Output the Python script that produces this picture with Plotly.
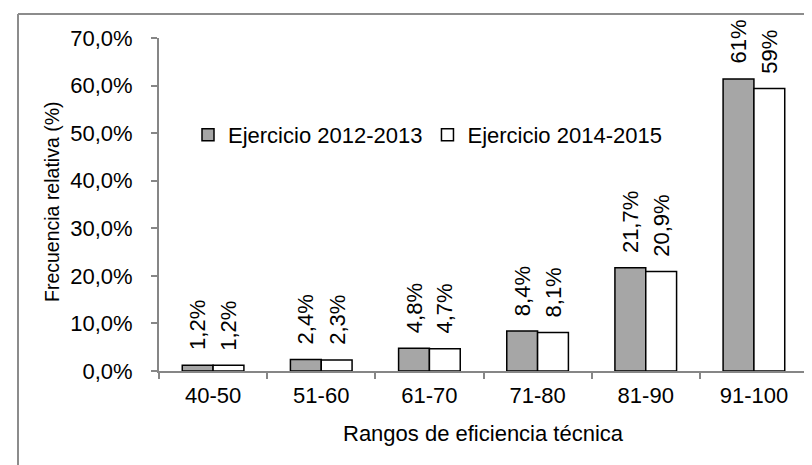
import plotly.graph_objects as go

categories = ["40-50", "51-60", "61-70", "71-80", "81-90", "91-100"]
serie_2012 = [1.2, 2.4, 4.8, 8.4, 21.7, 61.4]
serie_2014 = [1.2, 2.3, 4.7, 8.1, 20.9, 59.4]
labels_2012 = ["1,2%", "2,4%", "4,8%", "8,4%", "21,7%", "61%"]
labels_2014 = ["1,2%", "2,3%", "4,7%", "8,1%", "20,9%", "59%"]
names = ["Ejercicio 2012-2013", "Ejercicio 2014-2015"]
x_title = "Rangos de eficiencia técnica"
y_title = "Frecuencia relativa (%)"

W, H = 812, 465
ML, MR, MT, MB = 151, 12, 30, 102
FAMILY = "Liberation Sans, Arial, sans-serif"
FONT = dict(family=FAMILY, size=22, color="black")
YTITLE_FONT = dict(family=FAMILY, size=19.5, color="black")
AXIS_GRAY = "#868686"

fig = go.Figure()
fig.add_bar(x=categories, y=serie_2012, name=names[0],
            marker=dict(color="#A6A6A6", line=dict(color="black", width=1.5)))
fig.add_bar(x=categories, y=serie_2014, name=names[1],
            marker=dict(color="white", line=dict(color="black", width=1.5)))

plot_w = W - ML - MR
plot_h = H - MT - MB
cat_w = plot_w / len(categories)
bargap = 0.43
bar_w = cat_w * (1 - bargap) / 2

for vals, labs, sign in ((serie_2012, labels_2012, -1), (serie_2014, labels_2014, 1)):
    for c, v, t in zip(categories, vals, labs):
        fig.add_annotation(x=c, y=v, text=t, textangle=-90, showarrow=False,
                           xanchor="center", yanchor="bottom",
                           xshift=sign * bar_w / 2, yshift=13,
                           font=FONT)

# axis titles
fig.add_annotation(xref="paper", yref="paper", x=(44 - ML) / plot_w,
                   y=1 - (194 - MT) / plot_h,
                   text=y_title, textangle=-90, showarrow=False,
                   xanchor="center", yanchor="middle", font=YTITLE_FONT)
fig.add_annotation(xref="paper", yref="paper", x=0.5, y=-(425 - (MT + plot_h)) / plot_h,
                   text=x_title, showarrow=False,
                   xanchor="center", yanchor="middle", font=FONT)

# chart border (left and top visible)
bx0 = (10 - ML) / plot_w
by1 = 1 + (MT - 6) / plot_h
fig.add_shape(type="line", xref="paper", yref="paper", x0=bx0, x1=bx0, y0=by1, y1=-2,
              line=dict(color="#8C8C8C", width=2))
fig.add_shape(type="line", xref="paper", yref="paper", x0=bx0, x1=2, y0=by1, y1=by1,
              line=dict(color="#8C8C8C", width=2))

fig.update_layout(
    width=W, height=H,
    margin=dict(l=ML, r=MR, t=MT, b=MB, autoexpand=False),
    paper_bgcolor="white", plot_bgcolor="white",
    font=FONT,
    separators=",.",
    barmode="group", bargap=bargap, bargroupgap=0,
    showlegend=True,
    legend=dict(orientation="h", x=(180 - ML) / plot_w, y=1 - (127 - MT) / plot_h,
                xanchor="left", yanchor="middle",
                font=FONT, bgcolor="rgba(0,0,0,0)", itemwidth=30, traceorder="normal"),
    xaxis=dict(showline=True, linecolor=AXIS_GRAY, linewidth=2, automargin=False,
               ticks="outside", tickson="boundaries", ticklen=6, tickcolor=AXIS_GRAY,
               tickwidth=2, showgrid=False, tickfont=FONT, ticklabelstandoff=4),
    yaxis=dict(range=[0, 70], dtick=10, tickformat=".1f", ticksuffix="%",
               showline=True, linecolor=AXIS_GRAY, linewidth=2, automargin=False,
               ticks="outside", ticklen=6, tickcolor=AXIS_GRAY, tickwidth=2,
               showgrid=False, zeroline=False, tickfont=FONT, ticklabelstandoff=14),
)

fig.write_html("out.html")
